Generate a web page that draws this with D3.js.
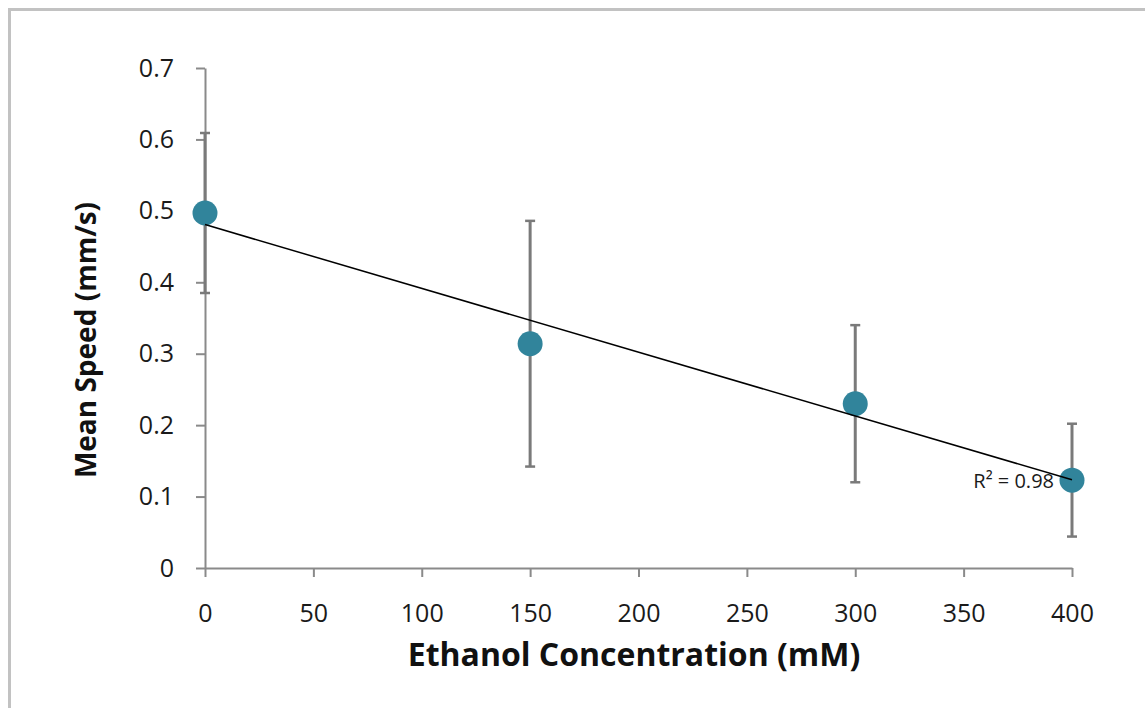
<!DOCTYPE html>
<html>
<head>
<meta charset="utf-8">
<script src="https://cdn.jsdelivr.net/npm/d3@7"></script>
<style>
  body { margin: 0; background: #fff; }
  text { font-family: "Open Sans", sans-serif; }
</style>
</head>
<body>
<script>
const concentrations = [0, 150, 300, 400]
const meanSpeed = [0.497, 0.314, 0.230, 0.123]
const errorSize = [0.112, 0.172, 0.110, 0.079]
const xTicks = [0, 50, 100, 150, 200, 250, 300, 350, 400]
const yTicks = [0, 0.1, 0.2, 0.3, 0.4, 0.5, 0.6, 0.7]
const rSquaredLabel = "R² = 0.98"

const svgWidth = 1145
const svgHeight = 708

const margin = { top: 68, right: 73, bottom: 140, left: 205 }
const chartWidth = svgWidth - margin.left - margin.right
const chartHeight = svgHeight - margin.top - margin.bottom

const data = concentrations.map((c, i) => ({ x: c, y: meanSpeed[i], e: errorSize[i] }))

const svg = d3.select("body").append("svg")
    .attr("width", svgWidth)
    .attr("height", svgHeight)

// frame (only top and left edges show)
svg.append("path")
    .attr("d", `M9.5,${svgHeight} V9.5 H${svgWidth}`)
    .attr("fill", "none")
    .attr("stroke", "#c2c2c2")
    .attr("stroke-width", 3)

const chartG = svg.append("g")
    .attr("transform", `translate(${margin.left}, ${margin.top})`)

const x = d3.scaleLinear()
    .domain([0, 400])
    .range([0, chartWidth])

const y = d3.scaleLinear()
    .domain([0, 0.7])
    .range([chartHeight, 0])

const yAxis = d3.axisLeft(y)
    .tickValues(yTicks)
    .tickFormat(d3.format("~g"))
    .tickSize(9)
    .tickSizeOuter(0)
    .tickPadding(22)

const xAxis = d3.axisBottom(x)
    .tickValues(xTicks)
    .tickSize(9)
    .tickSizeOuter(0)
    .tickPadding(27)

const yG = chartG.append("g").call(yAxis)
const xG = chartG.append("g")
    .attr("transform", `translate(0, ${chartHeight})`)
    .call(xAxis)

for (const g of [xG, yG]) {
  g.select(".domain").attr("stroke", "#8a8a8a").attr("stroke-width", 2)
  g.selectAll(".tick line").attr("stroke", "#8a8a8a").attr("stroke-width", 2)
  g.selectAll(".tick text")
    .attr("fill", "#1a1a1a")
    .style("font-size", "25px")
    .style("font-family", "'Open Sans', sans-serif")
}

// error bars
const bars = chartG.selectAll(".err")
    .data(data)
    .enter()
    .append("g")
    .attr("class", "err")
    .attr("stroke", "#7a7a7a")

bars.append("line")
    .attr("x1", d => x(d.x))
    .attr("x2", d => x(d.x))
    .attr("y1", d => y(d.y + d.e))
    .attr("y2", d => y(d.y - d.e))
    .attr("stroke-width", 3)

bars.selectAll(".cap")
    .data(d => [d.y + d.e, d.y - d.e].map(v => ({ x: d.x, v: v })))
    .enter()
    .append("line")
    .attr("x1", d => x(d.x) - 5)
    .attr("x2", d => x(d.x) + 5)
    .attr("y1", d => y(d.v))
    .attr("y2", d => y(d.v))
    .attr("stroke-width", 2.5)

// points
chartG.selectAll(".dot")
    .data(data)
    .enter()
    .append("circle")
    .attr("class", "dot")
    .attr("cx", d => x(d.x))
    .attr("cy", d => y(d.y))
    .attr("r", 12.5)
    .attr("fill", "#31849b")

// linear trendline (least squares)
const mx = d3.mean(data, d => d.x)
const my = d3.mean(data, d => d.y)
const slope = d3.sum(data, d => (d.x - mx) * (d.y - my)) / d3.sum(data, d => (d.x - mx) ** 2)
const intercept = my - slope * mx
const xExtent = d3.extent(concentrations)

chartG.append("line")
    .attr("x1", x(xExtent[0]))
    .attr("x2", x(xExtent[1]))
    .attr("y1", y(intercept + slope * xExtent[0]))
    .attr("y2", y(intercept + slope * xExtent[1]))
    .attr("stroke", "#000")
    .attr("stroke-width", 1.5)

chartG.append("text")
    .attr("x", x(400) - 18)
    .attr("y", y(0.123) + 8)
    .attr("text-anchor", "end")
    .style("font-size", "20px")
    .attr("fill", "#1a1a1a")
    .text(rSquaredLabel)

// axis titles
svg.append("text")
    .attr("x", 634)
    .attr("y", 666)
    .attr("text-anchor", "middle")
    .style("font-size", "32px")
    .style("font-weight", "bold")
    .attr("fill", "#111")
    .text("Ethanol Concentration (mM)")

svg.append("text")
    .attr("transform", "translate(96, 340) rotate(-90)")
    .attr("text-anchor", "middle")
    .style("font-size", "28px")
    .style("font-weight", "bold")
    .attr("fill", "#111")
    .text("Mean Speed (mm/s)")
</script>
</body>
</html>
